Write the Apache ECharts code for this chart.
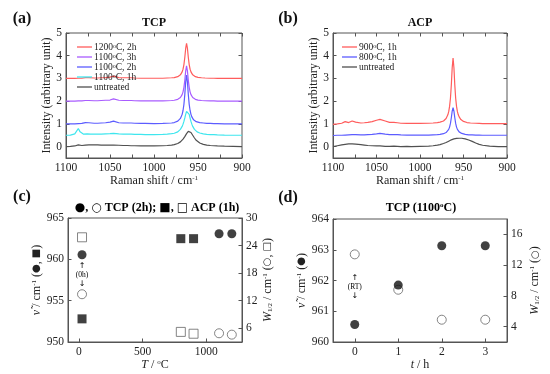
<!DOCTYPE html>
<html><head><meta charset="utf-8">
<script src="https://cdn.jsdelivr.net/npm/echarts@6/dist/echarts.min.js"></script>
<style>html,body{margin:0;padding:0;background:#fff}#c{width:550px;height:374px}</style>
</head><body><div id="c"></div>
<script>
// ---------- DATA ----------
const ramanShift = [
  1100,1095,1090,1088,1086,1084,1082,1080,1078,1076,1074,1072,
  1068,1064,1060,1055,1050,1048,1046,1044,1040,1035,1030,1028,1026,1022,1015,1010,
  1000,990,985,980,977,975,973,972,971,970,969,968,967,966,965,964,
  963,
  962,961,960,959,958,957,956,955,954,953,952,951,950,
  948,946,944,942,940,936,932,928,920,910,900];

const tcp1200 = [
  3.00,3.00,3.00,3.00,3.01,3.01,3.01,3.02,3.04,3.07,3.04,3.02,
  3.02,3.02,3.03,3.04,3.06,3.09,3.10,3.07,3.04,3.03,3.03,3.05,3.03,3.02,3.01,3.01,
  3.01,3.01,3.02,3.03,3.04,3.06,3.08,3.10,3.13,3.16,3.21,3.29,3.41,3.61,3.92,4.32,
  4.55,
  4.32,3.92,3.61,3.41,3.29,3.21,3.16,3.13,3.10,3.08,3.07,3.06,3.05,
  3.04,3.03,3.02,3.02,3.02,3.01,3.01,3.00,3.00,3.00,3.00];
const tcp1100h3 = [
  2.00,2.00,2.00,2.00,2.01,2.01,2.01,2.02,2.03,2.06,2.03,2.02,
  2.02,2.02,2.03,2.04,2.05,2.09,2.10,2.06,2.04,2.03,2.03,2.04,2.03,2.02,2.01,2.01,
  2.01,2.01,2.02,2.03,2.04,2.06,2.08,2.10,2.13,2.16,2.21,2.29,2.41,2.61,2.92,3.32,
  3.55,
  3.32,2.92,2.61,2.41,2.29,2.21,2.16,2.13,2.10,2.08,2.07,2.06,2.05,
  2.04,2.03,2.02,2.02,2.02,2.01,2.01,2.00,2.00,2.00,2.00];
const tcp1100h2 = [
  1.00,1.00,1.00,1.00,1.01,1.01,1.02,1.03,1.06,1.08,1.05,1.03,
  1.03,1.03,1.04,1.05,1.08,1.12,1.12,1.08,1.05,1.04,1.04,1.06,1.04,1.03,1.02,1.02,
  1.01,1.02,1.03,1.04,1.06,1.09,1.12,1.15,1.18,1.24,1.31,1.42,1.59,1.86,2.29,2.84,
  3.15,
  2.84,2.29,1.86,1.59,1.42,1.31,1.24,1.18,1.15,1.12,1.10,1.09,1.07,
  1.06,1.04,1.04,1.03,1.02,1.02,1.01,1.01,1.00,1.00,1.00];
const tcp1100h1 = [
  0.50,0.51,0.56,0.64,0.80,0.65,0.57,0.55,0.55,0.56,0.55,0.55,
  0.55,0.55,0.55,0.56,0.57,0.58,0.58,0.57,0.56,0.55,0.55,0.55,0.55,0.54,0.54,0.53,
  0.53,0.54,0.55,0.57,0.59,0.61,0.65,0.68,0.72,0.76,0.82,0.89,0.99,1.11,1.26,1.42,
  1.55,
  1.60,1.55,1.42,1.26,1.11,0.99,0.89,0.82,0.76,0.72,0.68,0.65,0.63,
  0.60,0.58,0.56,0.55,0.54,0.53,0.53,0.52,0.51,0.50,0.50];
const tcpUntreated = [
  0.00,0.01,0.03,0.05,0.08,0.05,0.05,0.06,0.07,0.08,0.08,0.08,
  0.08,0.08,0.07,0.07,0.07,0.07,0.07,0.07,0.06,0.05,0.05,0.05,0.04,0.04,0.03,0.03,
  0.03,0.04,0.05,0.07,0.09,0.11,0.14,0.16,0.18,0.21,0.24,0.28,0.33,0.38,0.44,0.50,
  0.57,
  0.62,0.67,0.68,0.67,0.62,0.57,0.50,0.44,0.38,0.33,0.28,0.24,0.21,
  0.16,0.13,0.10,0.08,0.07,0.05,0.04,0.03,0.02,0.01,0.00];

const acp900 = [
  0.98,1.00,1.03,1.06,1.10,1.07,1.06,1.08,1.13,1.14,1.08,1.05,
  1.04,1.05,1.07,1.10,1.16,1.21,1.20,1.15,1.13,1.07,1.07,1.08,1.05,1.03,1.02,1.02,
  1.02,1.03,1.04,1.06,1.08,1.10,1.13,1.16,1.19,1.24,1.31,1.40,1.54,1.77,2.13,2.71,
  3.47,
  3.90,3.47,2.71,2.13,1.77,1.54,1.40,1.31,1.24,1.19,1.16,1.13,1.11,
  1.08,1.06,1.05,1.04,1.03,1.03,1.02,1.01,1.01,1.01,1.01];
const acp800 = [
  0.49,0.50,0.50,0.51,0.51,0.51,0.52,0.52,0.53,0.54,0.53,0.52,
  0.52,0.52,0.53,0.54,0.56,0.58,0.58,0.56,0.55,0.53,0.53,0.54,0.53,0.52,0.51,0.51,
  0.51,0.51,0.52,0.53,0.54,0.55,0.57,0.58,0.59,0.62,0.65,0.69,0.76,0.86,1.02,1.27,
  1.56,
  1.72,1.56,1.27,1.02,0.86,0.76,0.69,0.65,0.62,0.59,0.58,0.57,0.56,
  0.54,0.53,0.52,0.52,0.52,0.51,0.51,0.50,0.50,0.50,0.50];
const acpUntreated = [
  0.00,0.04,0.08,0.09,0.10,0.11,0.12,0.12,0.12,0.12,0.11,0.11,
  0.09,0.07,0.05,0.04,0.03,0.02,0.03,0.02,0.01,0.01,0.02,0.01,0.01,0.00,0.01,0.00,
  0.01,0.02,0.04,0.07,0.09,0.11,0.14,0.15,0.17,0.18,0.20,0.22,0.24,0.26,0.28,0.30,
  0.31,
  0.32,0.34,0.35,0.35,0.36,0.37,0.37,0.37,0.37,0.37,0.37,0.36,0.36,
  0.34,0.32,0.29,0.26,0.23,0.16,0.10,0.06,0.02,0.00,0.00];

// panel (c)
const tcpTemp = [25, 1100, 1200];
const tcpNu   = [960.56, 963.1, 963.1];
const tcpW    = [13.4, 4.9, 4.6];
const acpTemp = [25, 800, 900];
const acpNu   = [952.8, 962.5, 962.5];
const acpW    = [25.8, 5.2, 4.8];
// panel (d)
const timeH  = [0, 1, 2, 3];
const nuTime = [960.57, 961.85, 963.13, 963.13];
const wTime  = [13.4, 8.8, 4.9, 4.9];

// tick labels
const ramanTicks = [1100, 1050, 1000, 950, 900];
const intensityTicks = [0, 1, 2, 3, 4, 5];
const tempTicks = [0, 500, 1000];
const nuTicksC = [950, 955, 960, 965];
const wTicksC = [6, 12, 18, 24, 30];
const timeTicks = [0, 1, 2, 3];
const nuTicksD = [960, 961, 962, 963, 964];
const wTicksD = [4, 8, 12, 16];

// ---------- STYLE ----------
const FONT = '"Liberation Serif","Times New Roman",serif';
const SYMF = '"DejaVu Sans",sans-serif';
const AX = '#555';
const TXT = '#222';
const C = {red:'#ff5c5c', purple:'#a95cff', blue:'#5c5cff', cyan:'#3fe6ee', black:'#505050'};

function zip(xs, ys){ return xs.map((x,i)=>[x, ys[i]]); }

const rich = {
  sup:{fontSize:7, fontFamily:FONT, color:TXT, verticalAlign:'top', padding:[0,0,5,0]},
  sub:{fontSize:7, fontFamily:FONT, color:TXT, verticalAlign:'bottom', padding:[4,0,0,0]},
  i:{fontSize:12, fontFamily:FONT, color:TXT, fontStyle:'italic'},
  n:{fontSize:12, fontFamily:FONT, color:TXT},
  sym:{fontSize:10, fontFamily:SYMF, color:TXT}
};
const nameStyle = {fontSize:12, fontFamily:FONT, color:TXT, rich};
const lblStyle = {fontSize:11.5, fontFamily:FONT, color:TXT};

function axisCommon(){
  return {
    axisLine:{show:true, onZero:false, lineStyle:{color:AX, width:1}},
    splitLine:{show:false},
    axisTick:{show:true, inside:true, length:3.5, lineStyle:{color:AX}},
  };
}
function valX(grid, min, max, labels, ticks, name, gap, inverse, pos){
  const a = Object.assign(axisCommon(), {
    type:'value', gridIndex:grid, min, max, inverse:!!inverse, position:pos||'bottom',
    axisLabel:{show:pos!=='top', customValues:labels, margin:4, formatter:v=>String(v), ...lblStyle},
    name: name||'', nameLocation:'middle', nameGap:gap||0, nameTextStyle:nameStyle
  });
  a.axisTick.customValues = ticks;
  if (pos==='top'){ a.axisLine.show=false; }
  return a;
}
function valY(grid, min, max, labels, ticks, name, gap, pos, showLabel){
  const a = Object.assign(axisCommon(), {
    type:'value', gridIndex:grid, min, max, position:pos||'left',
    axisLabel:{show:showLabel!==false, customValues:labels, margin:4, formatter:v=>String(v), ...lblStyle},
    name: name||'', nameLocation:'middle', nameGap:gap||0, nameRotate:90, nameTextStyle:nameStyle
  });
  a.axisTick.customValues = ticks;
  if (showLabel===false){ a.axisLine.show=false; }
  return a;
}

const ramanTickMarks = [900,925,950,975,1000,1025,1050,1075,1100];
const ramanName = '{n|Raman shift / cm}{sup|-1}';
const intName = 'Intensity (arbitrary unit)';

const grids = [
  {left:66, right:308, top:33, bottom:216},
  {left:333, right:43, top:33, bottom:216},
  {left:68, right:308, top:218, bottom:32},
  {left:333, right:43, top:219, bottom:32}
].map(g=>Object.assign(g,{show:true, borderColor:AX, borderWidth:1, containLabel:false}));

const xAxis = [
  valX(0, 900, 1100, ramanTicks, ramanTickMarks, ramanName, 14, true),
  valX(0, 900, 1100, ramanTicks, ramanTickMarks, '', 0, true, 'top'),
  valX(1, 900, 1100, ramanTicks, ramanTickMarks, ramanName, 14, true),
  valX(1, 900, 1100, ramanTicks, ramanTickMarks, '', 0, true, 'top'),
  valX(2, -85, 1280, tempTicks, tempTicks, '{i|T} {n|/ }{sup|o}{n|C}', 14),
  valX(3, -0.5, 3.5, timeTicks, timeTicks, '{i|t} {n|/ h}', 14)
];
const yAxis = [
  valY(0, -0.5, 5, intensityTicks, intensityTicks, intName, 12),
  valY(0, -0.5, 5, intensityTicks, intensityTicks, '', 0, 'right', false),
  valY(1, -0.5, 5, intensityTicks, intensityTicks, intName, 12),
  valY(1, -0.5, 5, intensityTicks, intensityTicks, '', 0, 'right', false),
  valY(2, 950, 965, nuTicksC, nuTicksC, '{i|ν̃} {n|/ cm}{sup|-1}{n| (}{sym|●}{n|, }{sym|■}{n|)}', 18),
  valY(2, 3, 30, wTicksC, wTicksC, '{i|W}{sub|1/2}{n| / cm}{sup|-1}{n| (}{sym|○}{n|, }{sym|□}{n|)}', 18, 'right'),
  valY(3, 960, 964, nuTicksD, nuTicksD, '{i|ν̃} {n|/ cm}{sup|-1}{n| (}{sym|●}{n|)}', 17),
  valY(3, 2, 18, wTicksD, wTicksD, '{i|W}{sub|1/2}{n| / cm}{sup|-1}{n| (}{sym|○}{n|)}', 22, 'right')
];

function line(name, xi, yi, ys, color){
  return {type:'line', name, xAxisIndex:xi, yAxisIndex:yi, data:zip(ramanShift, ys),
    symbol:'none', lineStyle:{color, width:1.2}, itemStyle:{color}, smooth:false, animation:false, silent:true};
}
function pts(xi, yi, xs, ys, symbol, filled){
  return {type:'scatter', xAxisIndex:xi, yAxisIndex:yi, data:zip(xs, ys), symbol, symbolSize:9,
    itemStyle: filled ? {color:'#111'} : {color:'#fff', borderColor:'#666', borderWidth:1},
    z: filled ? 3 : 2, animation:false, silent:true};
}

const series = [
  line('1200°C, 2h', 0, 0, tcp1200, C.red),
  line('1100°C, 3h', 0, 0, tcp1100h3, C.purple),
  line('1100°C, 2h', 0, 0, tcp1100h2, C.blue),
  line('1100°C, 1h', 0, 0, tcp1100h1, C.cyan),
  line('untreated', 0, 0, tcpUntreated, C.black),
  line('900°C, 1h', 2, 2, acp900, C.red),
  line('800°C, 1h', 2, 2, acp800, C.blue),
  line('untreated ', 2, 2, acpUntreated, C.black),
  pts(4, 5, acpTemp, acpW, 'rect', false),
  pts(4, 5, tcpTemp, tcpW, 'circle', false),
  pts(4, 4, acpTemp, acpNu, 'rect', true),
  pts(4, 4, tcpTemp, tcpNu, 'circle', true),
  pts(5, 7, timeH, wTime, 'circle', false),
  pts(5, 6, timeH, nuTime, 'circle', true)
];

const legRich = {
  t:{fontSize:9.5, fontFamily:FONT, color:TXT, lineHeight:8},
  s:{fontSize:6, fontFamily:FONT, color:TXT, verticalAlign:'top', lineHeight:8, padding:[0,0,3,0]}
};
function legFmt(n){
  const m = n.trim().match(/^(\d+)°C(.*)$/);
  return m ? `{t|${m[1]}}{s|o}{t|C${m[2]}}` : `{t|${n.trim()}}`;
}
const legCommon = {orient:'vertical', icon:'rect', itemWidth:15, itemHeight:1.3, itemGap:0,
  selectedMode:false, formatter:legFmt, textStyle:{rich:legRich, lineHeight:8, padding:[0,0,0,-3]}};
const legend = [
  Object.assign({data:['1200°C, 2h','1100°C, 3h','1100°C, 2h','1100°C, 1h','untreated'], left:72, top:37}, legCommon),
  Object.assign({data:['900°C, 1h','800°C, 1h','untreated '], left:337, top:37}, legCommon)
];

const bold = (t, x, y, size) => ({type:'text', x, y, silent:true,
  style:{text:t, fontSize:size, fontWeight:'bold', fontFamily:FONT, fill:'#111', align:'center', verticalAlign:'middle'}});

const titleRich = {
  b:{fontSize:12, fontWeight:'bold', fontFamily:FONT, color:'#111'},
  s:{fontSize:12, fontWeight:'bold', fontFamily:SYMF, color:'#111'},
  u:{fontSize:7, fontWeight:'bold', fontFamily:FONT, color:'#111', verticalAlign:'top', padding:[0,0,5,0]}
};

const graphic = [
  bold('(a)', 22, 19, 16), bold('TCP', 154, 23, 12),
  bold('(b)', 288, 19, 16), bold('ACP', 420, 23, 12),
  bold('(c)', 22, 197, 16), bold('(d)', 288, 198, 16),
  {type:'text', x:157, y:208, silent:true, style:{
    text:'{s|●}{b|, }{s|○}{b| TCP (2h); }{s|■}{b|, }{s|□}{b| ACP (1h)}',
    rich:titleRich, align:'center', verticalAlign:'middle'}},
  {type:'text', x:421, y:208, silent:true, style:{
    text:'{b|TCP (1100}{u|o}{b|C)}', rich:titleRich, align:'center', verticalAlign:'middle'}}
];

const chart = echarts.init(document.getElementById('c'), null, {renderer:'canvas'});
chart.setOption({animation:false, backgroundColor:'#fff', grid:grids, xAxis, yAxis, series, legend, graphic});

// annotation arrows
function ann(label, xi, yi, x, y){
  const p = chart.convertToPixel({xAxisIndex:xi, yAxisIndex:yi}, [x, y]);
  return {type:'text', x:p[0], y:p[1], silent:true, style:{
    text:'{a|↑}\n{l|('+label+')}\n{a|↓}', align:'center', verticalAlign:'middle',
    rich:{a:{fontSize:8, fontFamily:SYMF, color:'#333', lineHeight:9, align:'center'},
          l:{fontSize:7.5, fontFamily:FONT, color:'#333', lineHeight:9, align:'center'}}}};
}
chart.setOption({graphic: graphic.concat([
  ann('0h', 4, 4, 25, 958.1),
  ann('RT', 5, 6, 0, 961.8)
])});
</script></body></html>
